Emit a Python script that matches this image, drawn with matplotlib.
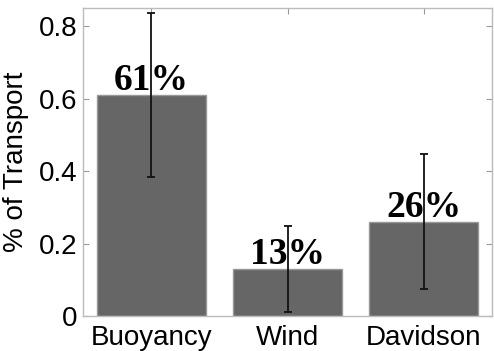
import matplotlib
matplotlib.use("Agg")
import matplotlib.pyplot as plt
import numpy as np

categories = ["Buoyancy", "Wind", "Davidson"]
fractions = [0.61, 0.13, 0.26]
errors = [0.226, 0.118, 0.186]
labels = ["61%", "13%", "26%"]

plt.rcParams["font.family"] = ["Liberation Sans", "DejaVu Sans"]

fig = plt.figure(figsize=(4.94, 3.51), dpi=100)
ax = fig.add_axes([83 / 494, 1 - 316 / 351, 409 / 494, 308 / 351])

x = np.arange(1, len(categories) + 1)
ax.bar(x, fractions, width=0.8, color="#666666", edgecolor="#999999", linewidth=1.0, zorder=2)
ax.errorbar(x, fractions, yerr=errors, fmt="none", ecolor="#111111",
            elinewidth=1.3, capsize=3, capthick=1.3, zorder=3)

for xi, val, lab in zip(x, fractions, labels):
    ax.text(xi, val + 0.014, lab, ha="center", va="baseline",
            family=["Liberation Serif", "DejaVu Serif"], fontweight="bold",
            fontsize=27, zorder=4)

ax.set_xlim(0.5, 3.5)
ax.set_ylim(0, 0.85)
ax.set_yticks([0, 0.2, 0.4, 0.6, 0.8])
ax.set_yticklabels(["0", "0.2", "0.4", "0.6", "0.8"])
ax.set_xticks(x)
ax.set_xticklabels(categories)
ax.set_ylabel("% of Transport", fontsize=20, labelpad=7)
ax.tick_params(axis="both", direction="in", labelsize=20, length=4, width=0.8,
               color="#999999", top=True, right=True, pad=4)
ax.tick_params(axis="x", pad=6.5)
for spine in ax.spines.values():
    spine.set_color("#bbbbbb")
    spine.set_linewidth(1.0)

fig.savefig("out.png", dpi=100)
